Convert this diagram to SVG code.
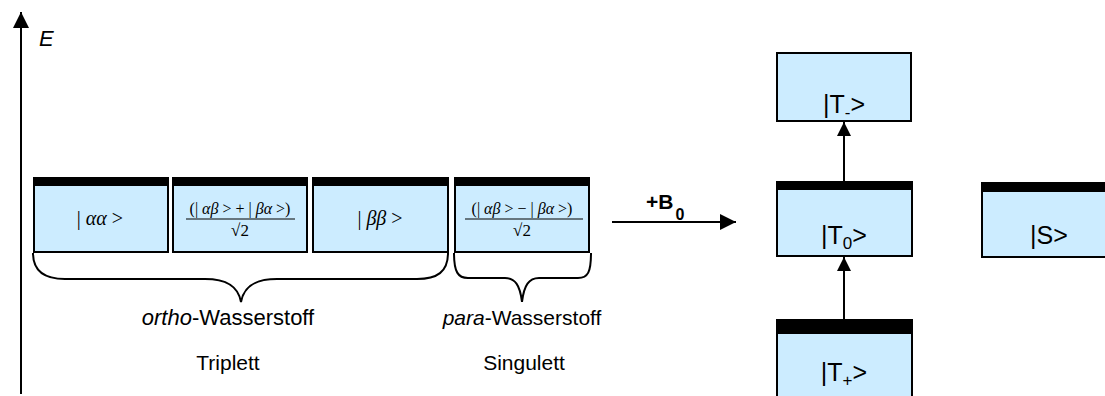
<svg xmlns="http://www.w3.org/2000/svg" width="1105" height="396" viewBox="0 0 1105 396">
<defs>
<marker id="ah" viewBox="0 0 14 14" refX="14" refY="7" markerWidth="14" markerHeight="14" markerUnits="userSpaceOnUse" orient="auto"><path d="M0,0 L14,7 L0,14 Z" fill="#000"/></marker>
<marker id="ahBig" viewBox="0 0 16 16" refX="16" refY="8" markerWidth="16" markerHeight="16" markerUnits="userSpaceOnUse" orient="auto"><path d="M0,0 L16,8 L0,16 Z" fill="#000"/></marker>
<style>
.box{fill:#CCECFF;stroke:#000;stroke-width:2}
.bar{fill:#000}
.serif{font-family:"Liberation Serif","Times New Roman",serif;fill:#000}
.sans{font-family:"Liberation Sans",Arial,sans-serif;fill:#000}
.line{stroke:#000;stroke-width:2;fill:none}
.brace{stroke:#000;stroke-width:2;fill:none}
</style>
</defs>
<g id="axis">
<line class="line" x1="21" y1="394" x2="21" y2="12" marker-end="url(#ahBig)"/>
<text class="sans" x="39" y="46" font-size="22" font-style="italic">E</text>
</g>
<g id="aa">
<rect class="box" x="34" y="178" width="134" height="74"/>
<rect class="bar" x="34" y="177" width="134" height="9"/>
<text class="serif" x="100" y="225" font-size="20" text-anchor="middle">| <tspan font-style="italic">αα</tspan>  &gt;</text>
</g>
<g id="ab_plus">
<rect class="box" x="173" y="178" width="134" height="74"/>
<rect class="bar" x="173" y="177" width="134" height="9"/>
<text class="serif" x="240" y="214" font-size="16" text-anchor="middle">(| <tspan font-style="italic">αβ</tspan> &gt; + | <tspan font-style="italic">βα</tspan> &gt;)</text>
<line x1="186" y1="219" x2="295" y2="219" stroke="#000" stroke-width="1.2"/>
<text class="serif" x="240" y="236" font-size="17" text-anchor="middle">√2</text>
</g>
<g id="bb">
<rect class="box" x="313" y="178" width="135" height="74"/>
<rect class="bar" x="313" y="177" width="135" height="9"/>
<text class="serif" x="380" y="225" font-size="20" text-anchor="middle">| <tspan font-style="italic">ββ</tspan>  &gt;</text>
</g>
<g id="ab_minus">
<rect class="box" x="455" y="178" width="134" height="74"/>
<rect class="bar" x="455" y="177" width="134" height="9"/>
<text class="serif" x="522" y="214" font-size="16" text-anchor="middle">(| <tspan font-style="italic">αβ</tspan> &gt; − | <tspan font-style="italic">βα</tspan> &gt;)</text>
<line x1="465" y1="219" x2="583" y2="219" stroke="#000" stroke-width="1.2"/>
<text class="serif" x="522" y="236" font-size="17" text-anchor="middle">√2</text>
</g>
<g id="ortho_brace">
<path class="brace" d="M33,253 C33,272 45,279 65,279 L205,279 C225,279 238,285 241,302 C244,285 257,279 277,279 L417,279 C437,279 448,272 448,253"/>
<text class="sans" x="228" y="325" font-size="22" text-anchor="middle"><tspan font-style="italic">ortho</tspan>-Wasserstoff</text>
<text class="sans" x="228" y="370" font-size="21" text-anchor="middle">Triplett</text>
</g>
<g id="para_brace">
<path class="brace" d="M454,253 C454,272 458,278 468,278 L505,278 C515,278 520,285 522,302 C524,285 529,278 539,278 L578,278 C588,278 591,272 591,253"/>
<text class="sans" x="522" y="325" font-size="21" text-anchor="middle"><tspan font-style="italic">para</tspan>-Wasserstoff</text>
<text class="sans" x="524" y="370" font-size="21" text-anchor="middle">Singulett</text>
</g>
<g id="Tminus">
<rect class="box" x="777" y="53" width="134" height="68"/>
<text class="sans" x="844" y="113" font-size="25" text-anchor="middle">|T<tspan font-size="17" dy="5">-</tspan><tspan dy="-5">&gt;</tspan></text>
</g>
<g id="T0">
<rect class="box" x="777" y="182" width="135" height="74"/>
<rect class="bar" x="777" y="181" width="135" height="9"/>
<text class="sans" x="844" y="244" font-size="25" text-anchor="middle">|T<tspan font-size="17" dy="5">0</tspan><tspan dy="-5">&gt;</tspan></text>
</g>
<g id="S">
<rect class="box" x="982" y="183" width="130" height="74"/>
<rect class="bar" x="982" y="182" width="130" height="10"/>
<text class="sans" x="1049" y="244" font-size="25" text-anchor="middle">|S&gt;</text>
</g>
<g id="Tplus">
<rect class="box" x="777" y="320" width="135" height="90"/>
<rect class="bar" x="777" y="319" width="135" height="15"/>
<text class="sans" x="844" y="381" font-size="25" text-anchor="middle">|T<tspan font-size="17" dy="5">+</tspan><tspan dy="-5">&gt;</tspan></text>
</g>
<g id="connectors">
<line class="line" x1="612" y1="222" x2="736" y2="222" marker-end="url(#ahBig)"/>
<text class="sans" x="646" y="209" font-size="21" font-weight="bold">+B<tspan font-size="16" dx="2" dy="11">0</tspan></text>
<line class="line" x1="844" y1="181" x2="844" y2="122" marker-end="url(#ah)"/>
<line class="line" x1="844" y1="319" x2="844" y2="257" marker-end="url(#ah)"/>
</g>
</svg>
